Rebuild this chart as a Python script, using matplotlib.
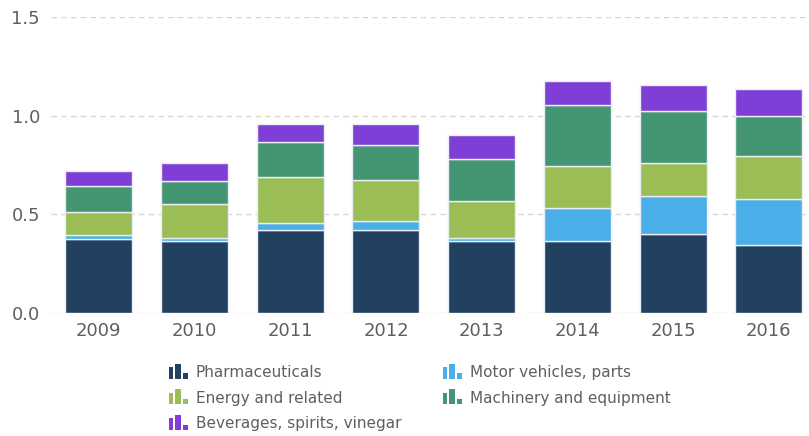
import matplotlib
matplotlib.use('Agg')
import matplotlib.pyplot as plt
import matplotlib.patches as mpatches
from matplotlib.legend_handler import HandlerBase
import numpy as np

plt.rcParams['font.family'] = ['DejaVu Sans']

# data
years = ['2009', '2010', '2011', '2012', '2013', '2014', '2015', '2016']
pharma = [0.374, 0.368, 0.422, 0.422, 0.368, 0.368, 0.401, 0.346]
motor = [0.020, 0.015, 0.037, 0.043, 0.012, 0.167, 0.193, 0.234]
energy = [0.116, 0.170, 0.232, 0.208, 0.189, 0.212, 0.168, 0.216]
machinery = [0.132, 0.118, 0.174, 0.177, 0.213, 0.304, 0.262, 0.201]
beverages = [0.080, 0.088, 0.093, 0.108, 0.121, 0.124, 0.129, 0.136]

series_names = ['Pharmaceuticals', 'Motor vehicles, parts', 'Energy and related',
                'Machinery and equipment', 'Beverages, spirits, vinegar']
series_vals = [pharma, motor, energy, machinery, beverages]
colors = ['#22405f', '#4aaee8', '#9abd56', '#449672', '#7f3fd6']

text_col = '#5f5f5f'


class BarIcon(HandlerBase):
    # little "bar chart" glyph used as legend marker
    def create_artists(self, legend, orig_handle, xd, yd, width, height, fontsize, trans):
        col = orig_handle.get_facecolor()
        # (left, width, height) as fractions of the handle box
        bars = [(0.0, 0.22, 0.78), (0.33, 0.30, 1.0), (0.72, 0.28, 0.36)]
        arts = []
        for left, bw, h in bars:
            r = mpatches.Rectangle((xd + left * width, yd - 0.2 * height), bw * width,
                                   height * 1.3 * h, facecolor=col, edgecolor='none',
                                   transform=trans)
            arts.append(r)
        return arts


fig = plt.figure(figsize=(8.09, 4.36), dpi=100)
ax = fig.add_axes([51 / 809, 0.2814, 1 - 51 / 809, 0.9617 - 0.2814])

x = np.arange(len(years))
bottom = np.zeros(len(years))
handles = []
for name, vals, c in zip(series_names, series_vals, colors):
    ax.bar(x, vals, bottom=bottom, width=0.7, color=c, edgecolor='#e8eef4',
           linewidth=1.0, zorder=3)
    bottom += np.array(vals)
    handles.append(mpatches.Patch(facecolor=c, label=name))

ax.set_xlim(-0.5, 7.42)
ax.set_ylim(0, 1.5)
ax.set_yticks([0, 0.5, 1.0, 1.5])
ax.set_yticklabels(['0.0', '0.5', '1.0', '1.5'])
ax.set_xticks(x)
ax.set_xticklabels(years)
ax.grid(axis='y', color='#d6d6d6', linestyle=(0, (4, 3)), linewidth=1.0, zorder=0)
for s in ax.spines.values():
    s.set_visible(False)
ax.tick_params(axis='both', length=0, labelsize=13, colors=text_col)
ax.tick_params(axis='y', pad=8)
ax.tick_params(axis='x', pad=6)

order = [0, 2, 4, 1, 3]
leg = fig.legend([handles[i] for i in order], [series_names[i] for i in order],
                 handler_map={mpatches.Patch: BarIcon()},
                 loc='upper left', bbox_to_anchor=(169 / 809, 1 - 365 / 436),
                 ncol=2, frameon=False, fontsize=11, borderpad=0, borderaxespad=0,
                 handlelength=1.24, handleheight=0.8, handletextpad=0.52,
                 columnspacing=2.72, labelspacing=0.7)
for t in leg.get_texts():
    t.set_color(text_col)

plt.savefig('out.png', dpi=100)
plt.close()
